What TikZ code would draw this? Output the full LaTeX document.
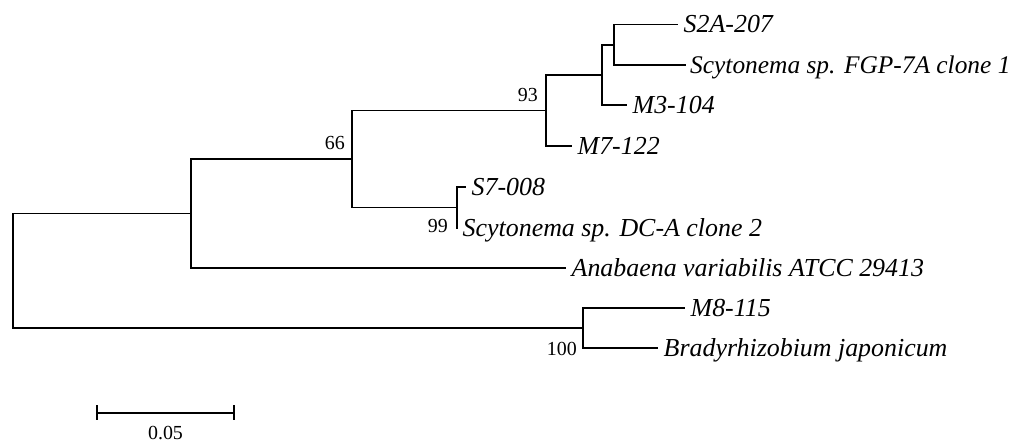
\documentclass[tikz,border=0pt]{standalone}
\usepackage{fontspec}
\setmainfont{Liberation Serif}
\begin{document}
\begin{tikzpicture}[x=1bp,y=-1bp,
  branch/.style={line width=1.8bp, line cap=rect},
  leaf/.style={anchor=base west, inner sep=0pt, xshift=6.5bp, yshift=-8.5bp,
    font=\fontsize{26}{30}\selectfont\itshape},
  boot/.style={anchor=base east, inner sep=0pt, font=\fontsize{20}{24}\selectfont}]
\useasboundingbox (0,0) rectangle (1016,442);
% leaf tips
\coordinate (L1) at (677,24.5);
\coordinate (L2) at (685,65);
\coordinate (L3) at (626,105);
\coordinate (L4) at (571,146);
\coordinate (L5) at (465,187);
\coordinate (L6) at (457,228);
\coordinate (L7) at (565,268);
\coordinate (L8) at (684,308);
\coordinate (L9) at (657,348);
% internal nodes
\coordinate (n614) at (614,44.75);
\coordinate (n602) at (602,74.9);
\coordinate (n93) at (546,110.45);
\coordinate (n99) at (457,207.5);
\coordinate (n66) at (352,159);
\coordinate (nA) at (191,213.5);
\coordinate (n100) at (583,328);
\coordinate (root) at (13,270.75);
% branches
\draw[branch] (L1) -| (n614) |- (L2);
\draw[branch] (n614) -| (n602) |- (L3);
\draw[branch] (n602) -| (n93) |- (L4);
\draw[branch] (L5) -| (n99) |- (L6);
\draw[branch] (n93) -| (n66) |- (n99);
\draw[branch] (n66) -| (nA) |- (L7);
\draw[branch] (L8) -| (n100) |- (L9);
\draw[branch] (nA) -| (root) |- (n100);
% leaf labels
\node[leaf] (t1) at (L1) {S2A-207};
\node[leaf, xshift=-1.5bp, font=\fontsize{25.5}{30}\selectfont\itshape] (t2) at (L2) {Scytonema sp. FGP-7A clone 1};
\node[leaf] (t3) at (L3) {M3-104};
\node[leaf] (t4) at (L4) {M7-122};
\node[leaf] (t5) at (L5) {S7-008};
\node[leaf, xshift=-1bp] (t6) at (L6) {Scytonema sp. DC-A clone 2};
\node[leaf] (t7) at (L7) {Anabaena variabilis ATCC 29413};
\node[leaf] (t8) at (L8) {M8-115};
\node[leaf] (t9) at (L9) {Bradyrhizobium japonicum};
% bootstrap values
\node[boot, xshift=-8bp, yshift=8.5bp] (b93) at (n93) {93};
\node[boot, xshift=-7bp, yshift=9bp] (b66) at (n66) {66};
\node[boot, xshift=-9bp, yshift=-5bp] (b99) at (L6) {99};
\node[boot, xshift=-6bp, yshift=-8bp] (b100) at (n100 |- L9) {100};
% scale bar
\coordinate (s1) at (97,413);
\coordinate (s2) at (234,413);
\draw[branch, line cap=butt] (s1) -- (s2);
\draw[branch, line cap=butt] ([yshift=7.5bp]s1) -- ([yshift=-7.5bp]s1);
\draw[branch, line cap=butt] ([yshift=7.5bp]s2) -- ([yshift=-7.5bp]s2);
\node[anchor=base, inner sep=0pt, font=\fontsize{20}{24}\selectfont] (sl) at (165.5,439) {0.05};
\end{tikzpicture}
\end{document}
